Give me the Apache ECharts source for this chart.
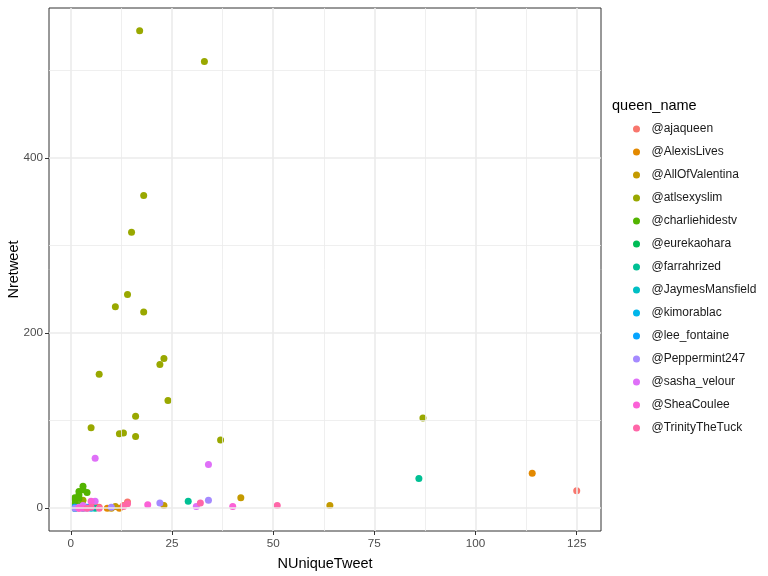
<!DOCTYPE html>
<html>
<head>
<meta charset="utf-8">
<script src="https://cdn.jsdelivr.net/npm/echarts@6/dist/echarts.min.js"></script>
<style>html,body{margin:0;padding:0;background:#fff}#chart{width:768px;height:576px}</style>
</head>
<body>
<div id="chart"></div>
<script>
// ---- data ----
const queens = ['@ajaqueen','@AlexisLives','@AllOfValentina','@atlsexyslim','@charliehidestv','@eurekaohara','@farrahrized','@JaymesMansfield','@kimorablac','@lee_fontaine','@Peppermint247','@sasha_velour','@SheaCoulee','@TrinityTheTuck'];
const ajaqueen = [[125,20],[14,7],[13,3],[7,1],[2,0]];
const alexisLives = [[114,40],[9,0],[12,0],[6,1]];
const allOfValentina = [[64,3],[42,12],[23,3],[11,2],[10,0]];
const atlsexyslim = [[17,545],[33,510],[18,357],[15,315],[14,244],[11,230],[18,224],[7,153],[23,171],[22,164],[24,123],[16,105],[5,92],[12,85],[13,86],[16,82],[37,78],[87,103],[3,9]];
const charliehidestv = [[3,25],[2,19],[3,21],[4,18],[2,15],[1,12],[1,10],[2,11],[1,5],[2,3]];
const eurekaohara = [[2,1],[1,0]];
const farrahrized = [[86,34],[29,8],[6,0]];
const jaymesMansfield = [[3,0],[1,1]];
const kimorablac = [[1,0],[5,0]];
const leeFontaine = [[1,1],[4,1]];
const peppermint247 = [[34,9],[22,6],[10,1],[4,0],[1,0]];
const sashaVelour = [[6,57],[34,50],[31,2],[6,8],[2,1],[3,3]];
const sheaCoulee = [[19,4],[40,2],[5,8],[3,0],[2,0]];
const trinityTheTuck = [[51,3],[32,6],[14,5],[13,2],[5,1],[4,0],[7,0]];
const seriesValues = [ajaqueen, alexisLives, allOfValentina, atlsexyslim, charliehidestv, eurekaohara, farrahrized, jaymesMansfield, kimorablac, leeFontaine, peppermint247, sashaVelour, sheaCoulee, trinityTheTuck];
const xTicks = [0,25,50,75,100,125];
const xMinor = [12.5,37.5,62.5,87.5,112.5];
const yTicks = [0,200,400];
const yMinor = [100,300,500];

// ---- styles ----
const palette = ['#F8766D','#E38900','#C49A00','#99A800','#53B400','#00BC56','#00C094','#00BFC4','#00B6EB','#06A4FF','#A58AFF','#DF70F8','#FB61D7','#FF66A8'];
const FONT = '"Liberation Sans", Arial, Helvetica, sans-serif';

const gridLines = [];
xTicks.forEach(v => gridLines.push({xAxis: v, lineStyle: {width: 1.6}}));
xMinor.forEach(v => gridLines.push({xAxis: v, lineStyle: {width: 0.8}}));
yTicks.forEach(v => gridLines.push({yAxis: v, lineStyle: {width: 1.6}}));
yMinor.forEach(v => gridLines.push({yAxis: v, lineStyle: {width: 0.8}}));

const series = [{
  type: 'scatter', name: '__grid', data: [], z: 1, silent: true,
  markLine: {silent: true, symbol: ['none','none'], label: {show: false},
    lineStyle: {color: '#EBEBEB', type: 'solid'}, emphasis: {disabled: true},
    animation: false, data: gridLines}
}];
queens.forEach((q, i) => {
  series.push({type: 'scatter', name: q, data: seriesValues[i], symbolSize: 7, z: 3,
    itemStyle: {color: palette[i], opacity: 1}});
});

const chart = echarts.init(document.getElementById('chart'), null, {renderer: 'canvas'});
chart.setOption({
  animation: false,
  backgroundColor: '#fff',
  color: palette,
  grid: {left: 49, right: 167, top: 8, bottom: 45, show: true, borderColor: '#333333', borderWidth: 1, backgroundColor: 'transparent', containLabel: false, outerBoundsMode: 'none'},
  xAxis: {
    type: 'value', min: -5.4, max: 131.0,
    name: 'NUniqueTweet', nameLocation: 'middle', nameGap: 25, nameMoveOverlap: false,
    nameTextStyle: {fontFamily: FONT, fontSize: 14.5, color: '#000'},
    axisLine: {show: false, onZero: false},
    axisTick: {show: true, length: 4, lineStyle: {color: '#333333', width: 1}, customValues: xTicks},
    axisLabel: {show: true, margin: 7, fontFamily: FONT, fontSize: 11.7, color: '#4D4D4D', customValues: xTicks},
    splitLine: {show: false}
  },
  yAxis: {
    type: 'value', min: -26, max: 571,
    name: 'Nretweet', nameLocation: 'middle', nameGap: 28, nameMoveOverlap: false,
    nameTextStyle: {fontFamily: FONT, fontSize: 14.5, color: '#000'},
    axisLine: {show: false, onZero: false},
    axisTick: {show: true, length: 4, lineStyle: {color: '#333333', width: 1}, customValues: yTicks},
    axisLabel: {show: true, margin: 6, fontFamily: FONT, fontSize: 11.7, color: '#4D4D4D', customValues: yTicks},
    splitLine: {show: false}
  },
  legend: {
    data: queens, orient: 'vertical', left: 633, top: 122, padding: 0,
    icon: 'circle', itemWidth: 20, itemHeight: 7, itemGap: 9,
    textStyle: {fontFamily: FONT, fontSize: 12, color: '#1A1A1A', lineHeight: 14},
    selectedMode: false
  },
  graphic: [{type: 'text', left: 612, top: 98, style: {text: 'queen_name', font: '14.5px ' + FONT, fill: '#000'}}],
  series: series
});
</script>
</body>
</html>
